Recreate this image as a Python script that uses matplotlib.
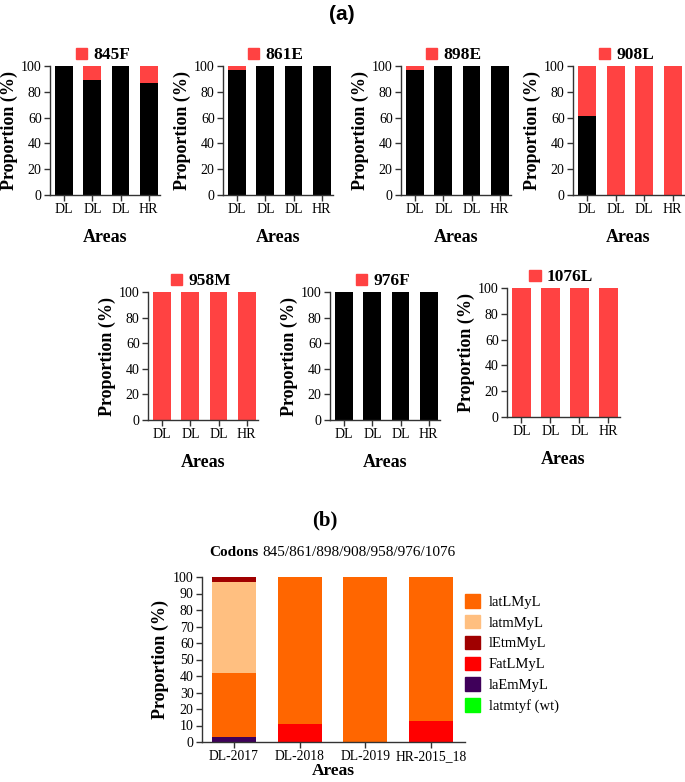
import matplotlib
matplotlib.use("Agg")
import matplotlib.pyplot as plt
from matplotlib.patches import Patch
import numpy as np

plt.rcParams['font.family'] = ['Liberation Serif', 'DejaVu Serif']

# (a) proportion of the wild-type (black) allele per codon, rest is mutant (red)
areas = ["DL", "DL", "DL", "HR"]
codons = ["845F", "861E", "898E", "908L", "958M", "976F", "1076L"]
wt_845F = [100, 89, 100, 87]
wt_861E = [97, 100, 100, 100]
wt_898E = [97, 100, 100, 100]
wt_908L = [61, 0, 0, 0]
wt_958M = [0, 0, 0, 0]
wt_976F = [100, 100, 100, 100]
wt_1076L = [0, 0, 0, 0]
wt_all = [wt_845F, wt_861E, wt_898E, wt_908L, wt_958M, wt_976F, wt_1076L]

# (b) haplotype proportions
areas_b = ["DL-2017", "DL-2018", "DL-2019", "HR-2015_18"]
wt_b = [0, 0, 0, 0]          # latmtyf (wt)
laEmMyL = [3, 0, 0, 0]
FatLMyL = [0, 11, 0, 13]
latLMyL = [39, 89, 100, 87]
latmMyL = [55, 0, 0, 0]
lEtmMyL = [3, 0, 0, 0]

red_a = "#FF4242"

W, H = 685, 782
fig = plt.figure(figsize=(6.85, 7.82), dpi=100)

def box(x0, x1, ytop, ybot):
    return [x0 / W, (H - ybot) / H, (x1 - x0) / W, (ybot - ytop) / H]

pos_a = [box(50, 160, 66, 195), box(223, 333, 66, 195), box(401, 511, 66, 195),
         box(573, 684, 66, 195), box(148, 258, 292, 420), box(330, 440, 292, 420),
         box(507, 620, 288, 417)]

def style(ax):
    for s in ["top", "right"]:
        ax.spines[s].set_visible(False)
    for s in ["left", "bottom"]:
        ax.spines[s].set_color("#333333")
        ax.spines[s].set_linewidth(1.0)
    ax.tick_params(direction="out", length=4, width=1, color="#333333",
                   labelsize=10, pad=2)

x = np.arange(4)
for p, name, wt in zip(pos_a, codons, wt_all):
    ax = fig.add_axes(p)
    wt = np.array(wt)
    ax.bar(x, wt, width=0.63, color="black")
    ax.bar(x, 100 - wt, bottom=wt, width=0.63, color=red_a)
    ax.set_xlim(-0.5, 3.4)
    ax.set_ylim(0, 100)
    ax.set_yticks([0, 20, 40, 60, 80, 100])
    ax.set_xticks(x)
    ax.set_xticklabels(areas)
    style(ax)
    ax.set_xlabel("Areas", fontsize=13, fontweight="bold", labelpad=9)
    ax.set_ylabel("Proportion (%)", fontsize=13, fontweight="bold", labelpad=2)
    ax.legend(handles=[Patch(color=red_a, label=name)], loc="lower center",
              bbox_to_anchor=(0.48, 1.02), frameon=False, handlelength=0.65,
              handleheight=0.65, handletextpad=0.35, borderpad=0, borderaxespad=0,
              prop={"weight": "bold", "size": 12.5})

fig.text(342 / W, 1 - 14 / H, "(a)", ha="center", va="center", fontsize=15,
         fontweight="bold", family=["Liberation Sans Narrow", "Liberation Sans", "DejaVu Sans"])
fig.text(325 / W, 1 - 520 / H, "(b)", ha="center", va="center", fontsize=15,
         fontweight="bold")
fig.text(258 / W, 1 - 553 / H, "Codons", ha="right", va="center", fontsize=11,
         fontweight="bold")
fig.text(262 / W, 1 - 553 / H, "845/861/898/908/958/976/1076", ha="left",
         va="center", fontsize=11)

# panel (b)
axb = fig.add_axes(box(202, 465, 577, 742))
series = [
    ("latmtyf (wt)", wt_b, "#00FF00"),
    ("laEmMyL", laEmMyL, "#3F005A"),
    ("FatLMyL", FatLMyL, "#FF0000"),
    ("latLMyL", latLMyL, "#FF6600"),
    ("latmMyL", latmMyL, "#FFBF80"),
    ("lEtmMyL", lEtmMyL, "#A00000"),
]
bottom = np.zeros(4)
handles = {}
for label, vals, col in series:
    vals = np.array(vals, dtype=float)
    axb.bar(x, vals, bottom=bottom, width=0.67, color=col)
    bottom += vals
    handles[label] = Patch(color=col, label=label)
axb.set_xlim(-0.485, 3.52)
axb.set_ylim(0, 100)
axb.set_yticks(np.arange(0, 101, 10))
axb.set_xticks(x)
axb.set_xticklabels(areas_b)
style(axb)
axb.tick_params(axis="x", labelsize=9.8)
axb.set_xlabel("Areas", fontsize=12.5, fontweight="bold", labelpad=0)
axb.set_ylabel("Proportion (%)", fontsize=13, fontweight="bold", labelpad=3)

order = ["latLMyL", "latmMyL", "lEtmMyL", "FatLMyL", "laEmMyL", "latmtyf (wt)"]
fig.legend(handles=[handles[k] for k in order], loc="upper left",
           bbox_to_anchor=(465 / W, 1 - 594 / H), frameon=False, fontsize=10.5,
           handlelength=1.05, handleheight=1.05, handletextpad=0.6,
           labelspacing=0.42, borderpad=0, borderaxespad=0)

fig.savefig("out.png", dpi=100)
